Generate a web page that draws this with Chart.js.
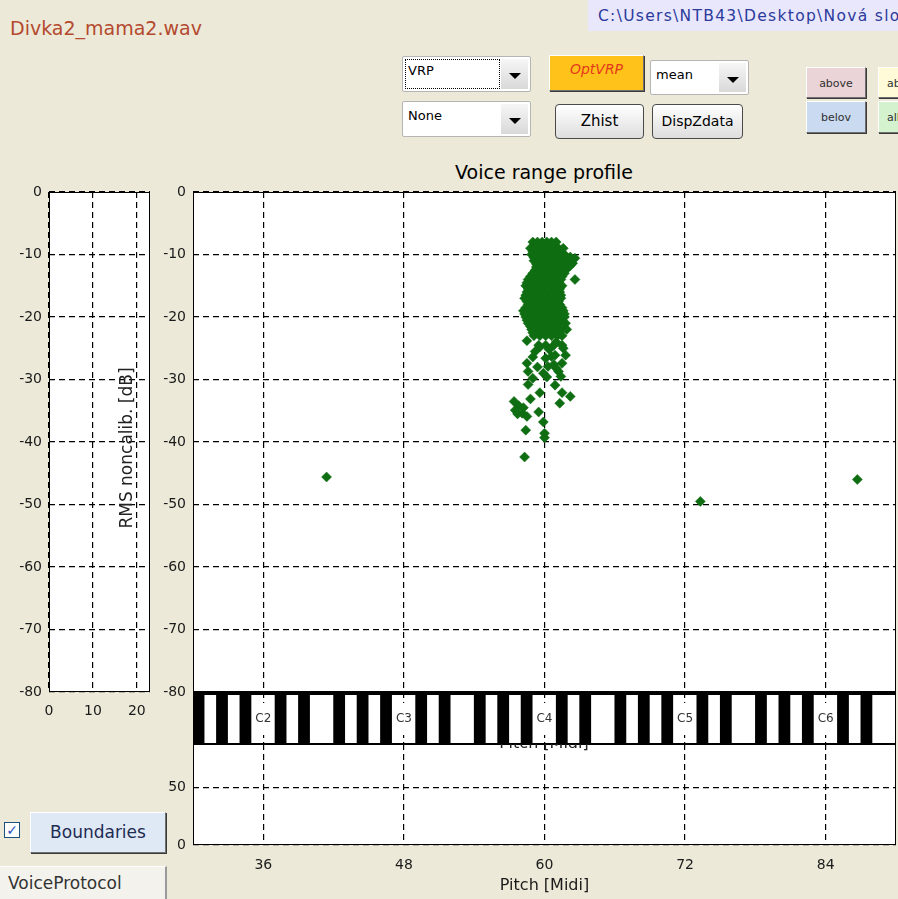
<!DOCTYPE html>
<html>
<head>
<meta charset="utf-8">
<title>Voice range profile</title>
<script src="https://cdn.jsdelivr.net/npm/chart.js@4.4.1/dist/chart.umd.min.js"></script>
<style>
  html, body { margin: 0; padding: 0; }
  body {
    width: 898px; height: 899px; overflow: hidden; position: relative;
    background: #ece9d8; font-family: "DejaVu Sans", Arial, sans-serif;
  }
  .abs { position: absolute; box-sizing: border-box; white-space: nowrap; }
  canvas { position: absolute; }
  #fileName { left: 10px; top: 17px; font-size: 19px; color: #b4492f; }
  #pathBox { left: 588px; top: 0; width: 310px; height: 31px; background: #e9e7fb; }
  #pathText { left: 598px; top: 7px; font-size: 15.5px; color: #2b3a9c; letter-spacing: 1.3px; }
  .combo { background: #fff; border: 1px solid #b5b5b5; border-radius: 2px; font-size: 13px; color: #000; }
  .combo .txt { position: absolute; left: 5px; top: 6px; }
  .combo .focus { position: absolute; left: 2px; top: 2px; right: 30px; bottom: 2px; border: 1px dotted #000; }
  .combo .arrow { position: absolute; right: 2px; top: 2px; bottom: 2px; width: 27px; background: linear-gradient(#f6f6f6, #d9d9d9); }
  .combo .arrow::after { content: ''; position: absolute; left: 8px; top: 50%; margin-top: -1px;
    border-left: 6px solid transparent; border-right: 6px solid transparent; border-top: 6px solid #000; }
  .flat { border: 1px solid; border-color: #fff #6f6f6f #6f6f6f #fff; box-shadow: 1px 1px 0 #3a3a3a; text-align: center; }
  .xp { border: 1px solid #4a4a4a; border-radius: 4px; background: linear-gradient(#ffffff, #dedede); text-align: center; font-size: 14px; color: #000; }
  #optvrp { left: 549px; top: 55px; width: 95px; height: 36px; background: #ffc21a; font-size: 14px; font-style: italic; color: #e5391c; padding-top: 5px; }
  .small { font-size: 11px; color: #303030; padding-top: 9px; }
  #title { left: 444px; top: 161px; width: 200px; text-align: center; font-size: 19px; color: #000; }
  #rmsLabel { left: 126px; top: 448px; font-size: 17px; color: #222; transform: translate(-50%, -50%) rotate(-90deg); z-index: 2; }
  #hiddenLabel { left: 444px; top: 733px; width: 200px; text-align: center; font-size: 16px; color: #222; z-index: 2; }
  #check { left: 4px; top: 822px; width: 16px; height: 16px; background: #fff; border: 1px solid #1c5180;
    font-size: 14px; line-height: 14px; color: #2a55c0; font-weight: bold; text-align: center; }
  #bounds { left: 30px; top: 812px; width: 136px; height: 41px; background: #dfe9f6; font-size: 17px; color: #1e2b52; line-height: 38px; }
  #protocol { left: 0; top: 866px; width: 167px; height: 33px; background: #f4f2ec; border-top: 1px solid #fff;
    border-right: 2px solid #9a9a9a; font-size: 17px; color: #333; line-height: 32px; padding-left: 8px; }
  #hist { left: 0; top: 176px; z-index: 1; }
  #vrp { left: 140px; top: 176px; z-index: 1; }
  #count { left: 140px; top: 728px; z-index: 1; }
  #keys { left: 193px; top: 692px; z-index: 3; }
</style>
</head>
<body>
<div id="fileName" class="abs">Divka2_mama2.wav</div>
<div id="pathBox" class="abs"></div>
<div id="pathText" class="abs">C:\Users\NTB43\Desktop\Nová složka</div>

<div class="abs combo" style="left:402px;top:56px;width:129px;height:36px;"><div class="focus"></div><span class="txt">VRP</span><div class="arrow"></div></div>
<div class="abs combo" style="left:402px;top:101px;width:129px;height:36px;"><span class="txt">None</span><div class="arrow"></div></div>
<div id="optvrp" class="abs flat">OptVRP</div>
<div class="abs combo" style="left:650px;top:60px;width:99px;height:35px;"><span class="txt">mean</span><div class="arrow"></div></div>
<div class="abs xp" style="left:555px;top:104px;width:89px;height:35px;line-height:33px;font-size:15px;">Zhist</div>
<div class="abs xp" style="left:652px;top:104px;width:91px;height:35px;line-height:33px;">DispZdata</div>
<div class="abs flat small" style="left:806px;top:67px;width:60px;height:31px;background:#ebd4d8;">above</div>
<div class="abs flat small" style="left:806px;top:101px;width:60px;height:32px;background:#c9daf1;">belov</div>
<div class="abs flat small" style="left:878px;top:67px;width:40px;height:31px;background:#fffbd9;text-align:left;padding-left:8px;">above</div>
<div class="abs flat small" style="left:878px;top:101px;width:40px;height:32px;background:#d5f2cf;text-align:left;padding-left:8px;">all</div>

<div id="title" class="abs">Voice range profile</div>

<canvas id="hist" width="160" height="546"></canvas>
<div id="rmsLabel" class="abs">RMS noncalib. [dB]</div>
<canvas id="vrp" width="766" height="532"></canvas>
<canvas id="count" width="766" height="172"></canvas>
<div id="hiddenLabel" class="abs">Pitch [Midi]</div>
<canvas id="keys" width="713" height="52"></canvas>

<div id="check" class="abs">✓</div>
<div id="bounds" class="abs flat">Boundaries</div>
<div id="protocol" class="abs">VoiceProtocol</div>

<script>
// tick values
const pitchTicks = [36, 48, 60, 72, 84];
const levelTicks = [0, -10, -20, -30, -40, -50, -60, -70, -80];
const histTicks = [0, 10, 20];
const countTicks = [0, 50];

// piano strip under the VRP
const octaveNotes = [36, 48, 60, 72, 84];
const octaveNames = ['C2', 'C3', 'C4', 'C5', 'C6'];
const blackKeys = [30, 32, 34, 37, 39, 42, 44, 46, 49, 51, 54, 56, 58, 61, 63, 66, 68, 70, 73, 75, 78, 80, 82, 85, 87];

// VRP points: pitch [midi] and level [dB], one row per line
const pitchMidi = [
  59.0, 59.4, 59.8, 60.2, 60.6, 61.0,
  59.2, 59.6, 60.0, 60.4, 60.8,
  58.8, 59.2, 59.6, 60.0, 60.4, 60.8, 61.2, 61.6,
  59.0, 59.4, 59.8, 60.2, 60.6, 61.0, 61.4,
  58.9, 59.3, 59.7, 60.1, 60.5, 60.9, 61.3, 61.7, 62.2, 62.6,
  59.1, 59.5, 59.9, 60.3, 60.7, 61.1, 61.5, 61.9, 62.4,
  59.1, 59.5, 59.9, 60.3, 60.7, 61.1, 61.5, 62.0, 62.4,
  59.3, 59.7, 60.1, 60.5, 60.9, 61.3, 61.8, 62.2,
  59.3, 59.7, 60.3, 60.7, 61.1, 61.5, 62.0,
  59.2, 59.5, 60.0, 60.5, 60.9, 61.3, 61.8,
  59.0, 59.5, 59.9, 60.4, 60.9, 61.3, 61.7,
  58.8, 59.3, 59.7, 60.2, 60.7, 61.1, 61.5,
  58.6, 59.1, 59.5, 60.0, 60.5, 61.0, 61.4, 62.6,
  58.5, 58.9, 59.3, 59.8, 60.3, 60.8, 61.2,
  58.4, 58.8, 59.2, 59.7, 60.2, 60.6, 61.1, 61.5,
  58.6, 59.0, 59.5, 59.9, 60.4, 60.9, 61.3,
  58.5, 58.9, 59.4, 59.8, 60.3, 60.8, 61.3,
  58.4, 58.7, 59.1, 59.6, 60.0, 60.5, 61.0, 61.4,
  58.3, 58.7, 59.2, 59.6, 60.1, 60.5, 61.0, 61.4,
  58.5, 58.9, 59.3, 59.8, 60.3, 60.7, 61.2,
  58.6, 59.0, 59.5, 59.9, 60.4, 60.9, 61.3,
  58.4, 58.8, 59.3, 59.7, 60.2, 60.7, 61.1, 61.5,
  58.2, 58.7, 59.1, 59.6, 60.0, 60.5, 61.0, 61.6,
  58.3, 58.8, 59.2, 59.7, 60.2, 60.7, 61.2, 61.7,
  58.4, 58.9, 59.3, 59.8, 60.2, 60.7, 61.2, 61.7,
  58.5, 59.1, 59.5, 60.0, 60.5, 61.0, 61.5,
  58.6, 59.0, 59.5, 60.0, 60.4, 60.9, 61.4, 61.8,
  58.8, 59.2, 59.7, 60.1, 60.6, 61.1, 61.6,
  58.9, 59.3, 59.8, 60.3, 60.7, 61.2, 61.9,
  59.0, 59.5, 59.9, 60.4, 60.9, 61.3,
  59.1, 59.6, 60.1, 60.6, 61.1, 61.5,
  58.5, 59.5, 60.1, 60.8, 61.5,
  59.6, 60.4, 61.0, 59.0, 60.8, 61.0, 59.4, 60.2, 61.4, 59.0,
  59.2, 60.1, 60.9, 61.6, 61.5, 60.3, 59.9, 58.5, 58.6, 61.8, 60.6, 61.2,
  58.6, 59.6, 60.9, 61.5, 62.2, 61.3, 58.8, 57.4, 57.8, 58.2, 57.5, 57.7, 58.1, 58.5, 59.5, 59.9,
  58.4, 60.0, 60.0, 58.3,
  41.4, 73.3, 86.7
];
const levelDb = [
  -8, -8, -8, -8, -8, -8,
  -8.5, -8.5, -8.5, -8.5, -8.5,
  -9, -9, -9, -9, -9, -9, -9, -9,
  -9.5, -9.5, -9.5, -9.5, -9.5, -9.5, -9.5,
  -10, -10, -10, -10, -10, -10, -10, -10, -10.4, -10.6,
  -10.5, -10.5, -10.5, -10.5, -10.5, -10.5, -10.5, -10.5, -10.8,
  -11, -11, -11, -11, -11, -11, -11, -11, -11.4,
  -11.5, -11.5, -11.5, -11.5, -11.5, -11.5, -11.5, -11.8,
  -12, -12, -12, -12, -12, -12, -12,
  -12.5, -12.5, -12.5, -12.5, -12.5, -12.5, -12.5,
  -13, -13, -13, -13, -13, -13, -13,
  -13.5, -13.5, -13.5, -13.5, -13.5, -13.5, -13.5,
  -14, -14, -14, -14, -14, -14, -14, -14,
  -14.5, -14.5, -14.5, -14.5, -14.5, -14.5, -14.5,
  -15, -15, -15, -15, -15, -15, -15, -15,
  -15.5, -15.5, -15.5, -15.5, -15.5, -15.5, -15.5,
  -16, -16, -16, -16, -16, -16, -16,
  -16.5, -16.5, -16.5, -16.5, -16.5, -16.5, -16.5, -16.5,
  -17, -17, -17, -17, -17, -17, -17, -17,
  -17.5, -17.5, -17.5, -17.5, -17.5, -17.5, -17.5,
  -18, -18, -18, -18, -18, -18, -18,
  -18.5, -18.5, -18.5, -18.5, -18.5, -18.5, -18.5, -18.5,
  -19, -19, -19, -19, -19, -19, -19, -19,
  -19.5, -19.5, -19.5, -19.5, -19.5, -19.5, -19.5, -19.5,
  -20, -20, -20, -20, -20, -20, -20, -20,
  -20.5, -20.5, -20.5, -20.5, -20.5, -20.5, -20.5,
  -21, -21, -21, -21, -21, -21, -21, -21,
  -21.5, -21.5, -21.5, -21.5, -21.5, -21.5, -21.5,
  -22, -22, -22, -22, -22, -22, -22,
  -22.5, -22.5, -22.5, -22.5, -22.5, -22.5,
  -23, -23, -23, -23, -23, -23,
  -23.8, -24.5, -24.5, -24.5, -24.5,
  -24.8, -25.2, -24.0, -26.4, -27.6, -28.2, -28.0, -29.6, -29.5, -29.8,
  -25.5, -26.6, -26.1, -25.0, -27.4, -27.9, -29.0, -27.4, -28.7, -26.1, -26.3, -28.7,
  -30.8, -32.1, -30.9, -32.1, -32.7, -33.8, -33.1, -33.5, -34.2, -34.5, -34.9, -35.5, -35.4, -35.9, -35.2, -36.8,
  -38.1, -38.6, -39.3, -42.4,
  -45.6, -49.5, -46.0
];

const green = '#0f6d12';
const keyWidth = 0.95;

Chart.defaults.font.family = '"DejaVu Sans", Arial, sans-serif';
Chart.defaults.font.size = 14;
Chart.defaults.color = '#1a1a1a';

// white axes background + solid box, like the matlab axes
const axesFrame = {
    id: 'axesFrame',
    beforeDraw(chart) {
        const { ctx, chartArea: a } = chart;
        ctx.save();
        ctx.fillStyle = '#fff';
        ctx.fillRect(a.left, a.top, a.right - a.left, a.bottom - a.top);
        ctx.restore();
    },
    afterDatasetsDraw(chart, args, opts) {
        const { ctx, chartArea: a } = chart;
        ctx.save();
        ctx.strokeStyle = '#000';
        ctx.lineWidth = 1;
        ctx.strokeRect(a.left + 0.5, a.top + 0.5, a.right - a.left - 1, a.bottom - a.top - 1);
        if (opts.topWidth) {
            ctx.lineWidth = opts.topWidth;
            ctx.beginPath();
            ctx.moveTo(a.left, a.top + opts.topWidth / 2);
            ctx.lineTo(a.right, a.top + opts.topWidth / 2);
            ctx.stroke();
        }
        ctx.restore();
    }
};

// C labels on the keyboard strip
const keyNames = {
    id: 'keyNames',
    afterDatasetsDraw(chart) {
        const { ctx, chartArea: a, scales: { x } } = chart;
        const yMid = (a.top + a.bottom) / 2 + 1;
        ctx.save();
        ctx.font = '12px "DejaVu Sans", Arial, sans-serif';
        ctx.textAlign = 'center';
        ctx.textBaseline = 'middle';
        octaveNotes.forEach((note, i) => {
            const px = x.getPixelForValue(note);
            const w = ctx.measureText(octaveNames[i]).width + 4;
            ctx.fillStyle = '#fff';
            ctx.fillRect(px - w / 2, yMid - 16, w, 32);
            ctx.fillStyle = '#333';
            ctx.fillText(octaveNames[i], px, yMid);
        });
        ctx.restore();
    }
};

function gridOpts() { return { color: '#000', lineWidth: 1.2, drawTicks: false }; }
function dashOpts() { return { display: false, dash: [6, 4] }; }
function fixedTicks(values) { return scale => { scale.ticks = values.map(v => ({ value: v })); }; }
const noLegend = { legend: { display: false }, tooltip: { enabled: false } };

// left histogram axes (empty)
new Chart(document.getElementById('hist'), {
    type: 'scatter',
    data: { datasets: [{ data: [] }] },
    options: {
        responsive: false, animation: false,
        layout: { padding: { top: 16, right: 10, bottom: 0, left: 0 } },
        plugins: noLegend,
        scales: {
            x: { type: 'linear', min: 0, max: 23, afterBuildTicks: fixedTicks(histTicks),
                 ticks: { padding: 11 }, grid: gridOpts(), border: dashOpts(), afterFit: s => { s.height = 30; } },
            y: { type: 'linear', min: -80, max: 0, afterBuildTicks: fixedTicks(levelTicks),
                 ticks: { padding: 7 }, grid: gridOpts(), border: dashOpts(), afterFit: s => { s.width = 49; } }
        }
    },
    plugins: [axesFrame]
});

// voice range profile scatter
new Chart(document.getElementById('vrp'), {
    type: 'scatter',
    data: {
        datasets: [{
            data: pitchMidi.map((p, i) => ({ x: p, y: levelDb[i] })),
            pointStyle: 'rectRot',
            pointRadius: 5,
            backgroundColor: green,
            borderColor: green,
            borderWidth: 0.5
        }]
    },
    options: {
        responsive: false, animation: false,
        layout: { padding: { top: 16, right: 10, bottom: 16, left: 0 } },
        plugins: noLegend,
        scales: {
            x: { type: 'linear', min: 30, max: 90, afterBuildTicks: fixedTicks(pitchTicks),
                 ticks: { display: false }, grid: gridOpts(), border: dashOpts(), afterFit: s => { s.height = 0; } },
            y: { type: 'linear', min: -80, max: 0, afterBuildTicks: fixedTicks(levelTicks),
                 ticks: { padding: 7 }, grid: gridOpts(), border: dashOpts(), afterFit: s => { s.width = 53; } }
        }
    },
    plugins: [axesFrame]
});

// lower axes with the pitch ticks
new Chart(document.getElementById('count'), {
    type: 'scatter',
    data: { datasets: [{ data: [] }] },
    options: {
        responsive: false, animation: false,
        layout: { padding: { top: 16, right: 10, bottom: 0, left: 0 } },
        plugins: noLegend,
        scales: {
            x: { type: 'linear', min: 30, max: 90, afterBuildTicks: fixedTicks(pitchTicks),
                 ticks: { padding: 12 }, grid: gridOpts(), border: dashOpts(),
                 title: { display: true, text: 'Pitch [Midi]', font: { size: 16 }, padding: { top: 0, bottom: 5 } },
                 afterFit: s => { s.height = 55; } },
            y: { type: 'linear', min: 0, max: 88, afterBuildTicks: fixedTicks(countTicks),
                 ticks: { padding: 7 }, grid: gridOpts(), border: dashOpts(), afterFit: s => { s.width = 53; } }
        }
    },
    plugins: [axesFrame]
});

// keyboard strip: one floating bar per black key
new Chart(document.getElementById('keys'), {
    type: 'bar',
    data: {
        labels: ['keys'],
        datasets: blackKeys.map(k => ({
            data: [[k, k + keyWidth]],
            backgroundColor: '#000',
            borderWidth: 0,
            barPercentage: 1,
            categoryPercentage: 1,
            grouped: false
        }))
    },
    options: {
        indexAxis: 'y',
        responsive: false, animation: false,
        layout: { padding: { top: 0, right: 10, bottom: 0, left: 0 } },
        plugins: Object.assign({ axesFrame: { topWidth: 3 } }, noLegend),
        scales: {
            x: { type: 'linear', min: 30, max: 90, afterBuildTicks: fixedTicks(pitchTicks),
                 ticks: { display: false }, grid: gridOpts(), border: dashOpts(), afterFit: s => { s.height = 0; } },
            y: { display: false }
        }
    },
    plugins: [axesFrame, keyNames]
});
</script>
</body>
</html>
